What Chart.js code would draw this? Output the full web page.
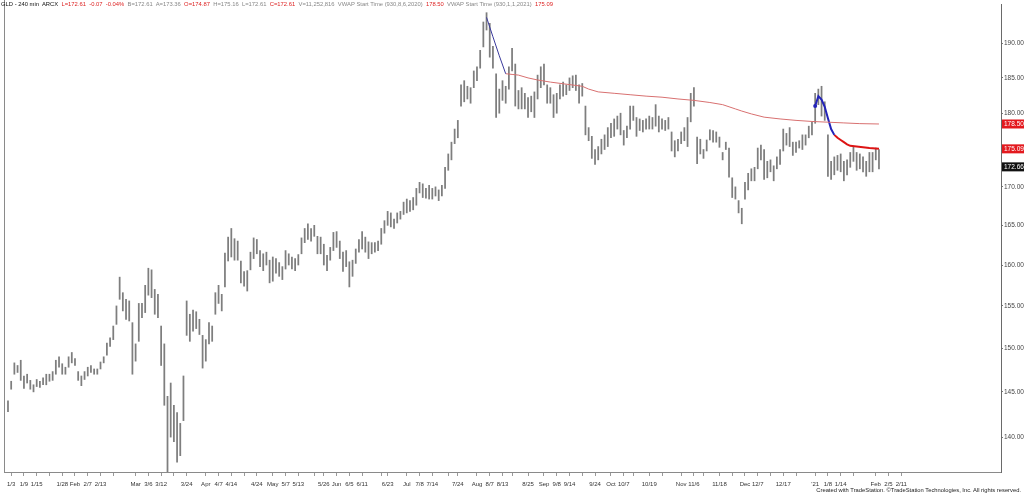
<!DOCTYPE html>
<html>
<head>
<meta charset="utf-8">
<script src="https://cdn.jsdelivr.net/npm/chart.js@4.4.1/dist/chart.umd.min.js"></script>
<style>
  body { margin:0; background:#fff; }
  #wrap { position:relative; width:1024px; height:495px; overflow:hidden; }
  #head { position:absolute; left:1px; top:0px; font:5.85px "Liberation Sans", Arial, sans-serif; line-height:8px; white-space:pre; color:#888; }
  #head .k { color:#111; }
  #head .r { color:#d22; }
  #foot { position:absolute; right:3px; top:487px; font:5.8px "Liberation Sans", Arial, sans-serif; color:#222; white-space:pre; }
</style>
</head>
<body>
<div id="wrap">
  <canvas id="myChart" width="1024" height="495"></canvas>
  <div id="head"><span class="k">GLD - 240 min  ARCX</span>  <span class="r">L=172.61  -0.07  -0.04%</span>  B=172.61  A=173.36  <span class="r">O=174.87</span>  H=175.16  L=172.61  <span class="r">C=172.61</span>  V=11,252,816  VWAP Start Time (930,8,6,2020)  <span class="r">178.50</span>  VWAP Start Time (930,1,1,2021)  <span class="r">175.09</span></div>
  <div id="foot">Created with TradeStation. ©TradeStation Technologies, Inc. All rights reserved.</div>
</div>
<script>
// one bar per trading day, index 0 = 1/2/2020
var lows = [142.8,145.3,147.0,147.2,146.3,145.4,146.0,145.3,145.0,145.6,
  145.5,145.8,145.8,146.2,146.3,147.0,147.8,147.0,147.0,147.8,
  148.3,148.0,146.3,145.7,146.4,146.8,147.2,147.0,147.0,147.6,
  148.3,149.2,150.2,151.0,152.8,155.8,154.4,153.4,153.2,147.0,
  148.5,150.8,153.6,154.2,156.3,156.0,154.0,153.6,148.0,143.5,
  136.0,140.0,139.5,137.3,138.0,141.8,151.5,150.8,152.0,152.3,
  151.6,147.7,148.5,150.5,150.8,154.0,155.3,154.4,157.3,160.5,
  161.0,160.6,160.6,157.8,157.4,156.8,159.4,160.8,161.4,159.8,
  159.3,160.0,157.8,158.0,159.0,158.6,158.2,159.5,160.0,159.5,
  159.3,160.0,161.4,162.8,163.2,163.0,163.6,161.4,161.4,160.0,
  159.3,160.6,161.8,162.2,160.8,159.2,159.8,157.3,158.6,160.2,
  161.6,162.0,161.6,160.8,161.4,161.6,161.8,162.6,164.0,165.0,
  164.8,164.6,165.3,165.8,166.4,166.6,166.8,167.0,167.6,169.2,
  168.6,168.5,168.4,168.4,168.8,168.2,168.8,169.8,172.2,173.6,
  175.8,176.6,181.0,181.6,182.0,181.4,183.6,184.6,186.4,189.5,
  192.0,188.0,186.4,179.4,180.0,181.8,181.4,183.4,186.0,181.0,
  180.6,180.6,180.6,179.4,180.2,179.4,182.0,183.6,184.0,181.4,
  181.4,179.4,180.0,182.0,182.4,182.6,183.2,183.6,183.2,181.4,
  182.4,177.0,176.2,173.8,173.0,173.6,174.4,175.0,175.4,176.6,
  176.8,177.8,177.0,175.6,176.6,177.8,179.0,176.8,177.6,177.4,
  177.8,177.8,177.8,178.2,177.4,177.8,177.6,177.8,174.8,174.0,
  174.8,175.8,176.2,175.4,178.8,181.0,173.1,174.4,173.8,174.8,
  176.3,176.0,176.0,175.3,173.6,175.0,171.3,168.6,168.4,166.6,
  165.2,168.4,169.6,170.8,170.8,172.4,173.6,171.0,171.2,172.0,
  170.8,172.4,173.0,174.8,175.6,175.4,174.2,174.6,175.2,175.0,
  175.6,176.6,177.0,178.6,181.2,179.6,179.0,171.4,171.0,171.6,
  172.2,172.0,170.8,171.6,172.6,173.4,172.2,172.4,172.0,171.4,
  172.0,172.0,173.6,172.4];
var highs = [144.0,146.2,148.3,148.0,148.6,146.8,147.0,146.3,145.8,146.4,
  146.2,146.6,147.0,147.0,147.3,148.6,149.0,148.2,147.8,149.0,
  149.5,148.8,147.3,146.8,147.3,147.8,148.0,147.6,147.6,148.4,
  149.0,150.6,151.2,152.6,155.0,158.5,156.6,155.8,155.6,153.0,
  150.5,155.3,155.3,157.5,159.6,159.4,157.0,156.4,152.6,150.5,
  144.5,146.0,143.5,142.7,141.5,146.8,155.6,154.0,154.5,154.3,
  153.4,151.5,151.0,153.0,152.6,156.6,157.5,156.4,161.5,163.5,
  164.6,163.3,163.0,160.5,159.2,159.3,161.6,163.4,163.2,161.8,
  161.4,161.6,160.6,161.0,160.8,160.3,159.8,161.8,161.4,161.0,
  160.8,161.3,163.4,164.6,165.2,164.6,165.0,163.6,163.5,162.6,
  161.2,162.2,164.1,164.2,163.0,161.6,161.8,160.4,160.6,162.0,
  163.2,164.2,163.5,162.9,162.8,162.8,163.0,164.6,165.6,166.8,
  166.6,165.8,166.6,166.8,168.0,168.4,168.2,168.6,169.8,170.6,
  170.4,169.8,170.2,169.8,170.0,169.6,170.2,172.6,174.4,176.0,
  177.8,179.0,184.0,184.6,183.8,183.6,186.0,186.6,189.0,193.2,
  194.6,193.0,189.6,185.6,183.4,184.6,183.8,186.6,189.3,187.0,
  183.2,183.6,182.8,182.2,182.4,183.0,185.4,186.6,187.0,184.0,
  183.6,182.6,182.8,184.0,184.4,184.0,185.0,185.3,185.4,184.0,
  184.2,181.0,178.0,176.8,175.0,175.4,176.4,177.0,178.0,178.6,
  179.2,179.6,180.0,177.6,178.2,181.0,181.0,179.4,179.2,179.0,
  179.2,179.6,179.4,181.2,179.6,179.2,179.0,179.4,177.4,176.2,
  176.4,177.4,178.0,179.4,182.8,183.6,176.7,176.4,175.0,176.3,
  177.7,177.6,177.4,176.7,174.6,176.0,175.2,171.2,170.0,168.2,
  167.2,170.6,171.8,172.4,172.6,175.2,175.6,175.0,173.4,173.6,
  172.8,174.0,175.0,177.8,177.2,178.0,176.0,176.0,176.2,177.0,
  177.0,178.2,178.8,182.8,183.4,183.8,181.6,177.0,173.4,174.0,
  174.2,174.4,173.4,173.6,174.6,175.4,174.6,174.4,174.0,173.4,
  174.6,174.6,175.2,175.0];

// anchored vwaps at a few days
var vwap1Days = [150,152,154,156,158,160,163,166,170,175,180,182,185,190,195,200,205,210,215,220,224,226,228,230,233,237,242,247,252,257,262,267,273];
var vwap1Vals = [193.9,191.0,188.2,185.6,185.5,185.4,185.0,184.7,184.4,184.1,183.8,183.4,183.0,182.8,182.6,182.4,182.25,182.0,181.8,181.5,181.2,180.9,180.6,180.3,179.9,179.45,179.2,179.0,178.85,178.75,178.65,178.55,178.5];
var vwap1Turn = 156;
var vwap2Days = [253,254,255,256,257,258,259,260,261,262,263,264,266,268,270,273];
var vwap2Vals = [181.0,182.4,181.9,180.9,179.3,177.8,177.0,176.6,176.3,176.0,175.7,175.5,175.4,175.3,175.2,175.09];
var vwap2Turn = 259;

var tickIdx = [1,5,9,17,21,25,29,40,44,48,56,62,66,70,78,83,87,91,99,103,107,111,119,125,129,133,141,147,151,155,163,168,172,176,184,189,193,201,211,215,223,231,235,243,253,257,261,272,276,280];
var tickText = ['1/3','1/9','1/15','1/28','Feb','2/7','2/13','Mar','3/6','3/12','3/24','Apr','4/7','4/14','4/24','May','5/7','5/13','5/26','Jun','6/5','6/11','6/23','Jul','7/8','7/14','7/24','Aug','8/7','8/13','8/25','Sep','9/8','9/14','9/24','Oct','10/7','10/19','Nov','11/6','11/18','Dec','12/7','12/17',"'21",'1/8','1/14','Feb','2/5','2/11'];
var minorIdx = [13,33,52,74,96,117,138,158,180,196,205,218,227,239,247,265];

var priceTicks = [140,145,150,155,160,165,170,175,180,185,190];
var sideBoxes = [178.50,175.09,172.66];
var sideColors = ['#e3191e','#e3191e','#111'];

function pts(days, vals, from, to) {
  var out = [];
  for (let k = 0; k < days.length; k++) {
    if (days[k] >= from && days[k] <= to) out.push({x: days[k], y: vals[k]});
  }
  return out;
}

var bars = [];
for (let i = 0; i < highs.length; i++) {
  bars.push({x: i, y: [lows[i], highs[i]]});
}

var framePlugin = {
  id: 'frame',
  afterDraw(chart) {
    const c = chart.ctx, a = chart.chartArea, y = chart.scales.y;
    c.save();
    c.strokeStyle = '#8a8a8a';
    c.lineWidth = 1;
    c.beginPath();
    c.moveTo(a.left + 0.5, 0);
    c.lineTo(a.left + 0.5, a.bottom);
    c.stroke();
    c.font = '6.5px "Liberation Sans", Arial';
    c.textBaseline = 'middle';
    for (let k = 0; k < sideBoxes.length; k++) {
      let py = y.getPixelForValue(sideBoxes[k]);
      c.fillStyle = sideColors[k];
      c.fillRect(a.right + 1, py - 4.5, 23, 9);
      c.fillStyle = '#fff';
      c.fillText(sideBoxes[k].toFixed(2), a.right + 3, py + 0.5);
    }
    c.restore();
  }
};

new Chart(document.getElementById('myChart'), {
  type: 'bar',
  data: {
    datasets: [
      { type: 'line', data: pts(vwap1Days, vwap1Vals, 0, vwap1Turn), borderColor: '#3a3a9c', borderWidth: 1, pointRadius: 0, order: 1 },
      { type: 'line', data: pts(vwap1Days, vwap1Vals, vwap1Turn, 999), borderColor: '#d87070', borderWidth: 1, pointRadius: 0, order: 1 },
      { type: 'line', data: pts(vwap2Days, vwap2Vals, 0, vwap2Turn), borderColor: '#2323b8', borderWidth: 2, pointRadius: (ctx) => ctx.dataIndex === 0 ? 2 : 0, pointBackgroundColor: '#2323b8', pointBorderWidth: 0, order: 1 },
      { type: 'line', data: pts(vwap2Days, vwap2Vals, vwap2Turn, 999), borderColor: '#dd1414', borderWidth: 2, pointRadius: 0, order: 1 },
      { data: bars, backgroundColor: '#7e7e7e', barThickness: 1.1, borderWidth: 0, order: 2 }
    ]
  },
  options: {
    responsive: false,
    animation: false,
    layout: { padding: { left: 1, top: 0, right: 0, bottom: 0 } },
    plugins: { legend: { display: false }, tooltip: { enabled: false } },
    scales: {
      x: {
        type: 'linear', min: -1.25, max: 311.25, offset: false,
        afterFit: (s) => { s.height = 23; },
        afterBuildTicks: (s) => { s.ticks = tickIdx.concat(minorIdx).sort((p, q) => p - q).map(v => ({value: v})); },
        grid: { drawOnChartArea: false, offset: false, tickLength: 4, color: '#999' },
        border: { display: true, color: '#8a8a8a' },
        ticks: {
          autoSkip: false, maxRotation: 0, padding: 5, color: '#333',
          font: { family: '"Liberation Sans", Arial', size: 6 },
          callback: (v) => { let k = tickIdx.indexOf(v); return k < 0 ? '' : tickText[k]; }
        }
      },
      y: {
        type: 'logarithmic', position: 'right', min: 136.26, max: 195.78,
        afterFit: (s) => { s.width = 23; },
        afterBuildTicks: (s) => { s.ticks = priceTicks.map(v => ({value: v})); },
        grid: { drawOnChartArea: false, tickLength: 2, color: '#777' },
        border: { display: true, color: '#6a6a6a' },
        ticks: {
          padding: 1, color: '#444',
          font: { family: '"Liberation Sans", Arial', size: 6.5 },
          callback: (v) => Number(v).toFixed(2)
        }
      }
    }
  },
  plugins: [framePlugin]
});
</script>
</body>
</html>
